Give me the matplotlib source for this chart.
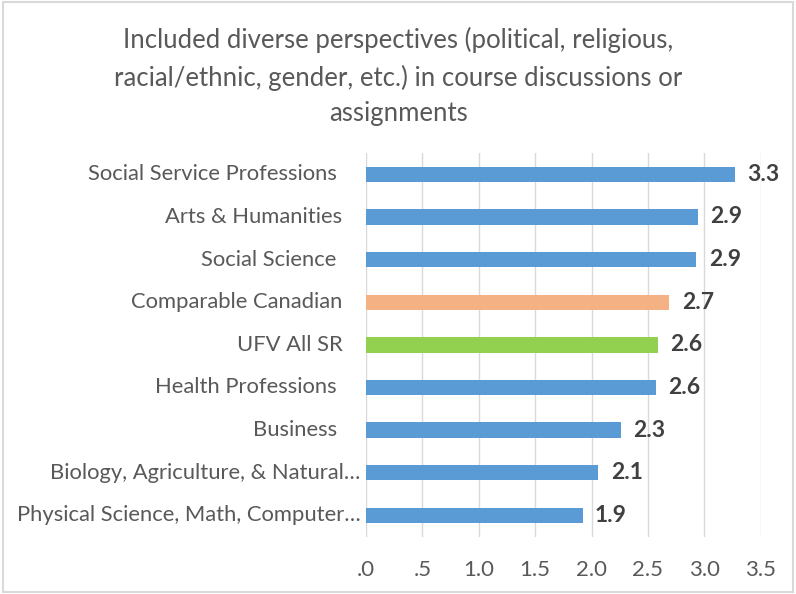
import matplotlib
matplotlib.use("Agg")
import matplotlib.pyplot as plt
from matplotlib.patches import Rectangle
import matplotlib.transforms as mtransforms

plt.rcParams['font.family'] = ['Lato', 'DejaVu Sans']

title = ("Included diverse perspectives (political, religious,\n"
         "racial/ethnic, gender, etc.) in course discussions or\n"
         "assignments")

# top to bottom
categories = ["Social Service Professions ", "Arts & Humanities", "Social Science ",
              "Comparable Canadian", "UFV All SR", "Health Professions ", "Business ",
              "Biology, Agriculture, & Natural\u2026",
              "Physical Science, Math, Computer\u2026"]
scores = [3.27, 2.94, 2.93, 2.69, 2.59, 2.57, 2.26, 2.06, 1.92]
colors = ["#5B9BD5", "#5B9BD5", "#5B9BD5", "#F4B183", "#92D050",
          "#5B9BD5", "#5B9BD5", "#5B9BD5", "#5B9BD5"]
xticks = [0, 0.5, 1.0, 1.5, 2.0, 2.5, 3.0, 3.5]
xtick_labels = [".0", ".5", "1.0", "1.5", "2.0", "2.5", "3.0", "3.5"]

fig = plt.figure(figsize=(7.96, 5.94), dpi=100)
ax = fig.add_axes([0.4598, 0.0965, 0.4959, 0.6459])

ypos = list(range(len(categories)))[::-1]
ax.barh(ypos, scores, height=0.36, color=colors, zorder=3)

ax.set_xlim(0, 3.5)
ax.set_ylim(-0.5, len(categories) - 0.5)
ax.set_xticks(xticks)
ax.set_xticklabels(xtick_labels)
ax.tick_params(axis='x', length=0, pad=17, labelsize=16, labelcolor="#595959")
ax.set_yticks([])
ax.grid(axis='x', color="#D9D9D9", linewidth=1, zorder=0)
for s in ax.spines.values():
    s.set_visible(False)

# category names, right aligned next to the axis
trans = mtransforms.blended_transform_factory(ax.transAxes, ax.transData)
for y, name in zip(ypos, categories):
    off = -4 if name.endswith("\u2026") else -17
    t = ax.text(0, y, name, transform=trans, ha='right', va='center',
                fontsize=15.8, color="#595959")
    t.set_transform(trans + mtransforms.ScaledTranslation(off / 72, 0, fig.dpi_scale_trans))

# value labels
for y, v in zip(ypos, scores):
    ax.annotate(f"{v:.1f}", (v, y), xytext=(9, 0), textcoords='offset points',
                ha='left', va='center', fontsize=16.5, fontweight='bold', color="#404040")

fig.text(0.5, 0.871, title, ha='center', va='center', fontsize=18.5,
         color="#595959", linespacing=1.52)

fig.patches.append(Rectangle((0.004, 0.004), 0.992, 0.992, transform=fig.transFigure,
                             fill=False, edgecolor="#D9D9D9", linewidth=1.5))

fig.savefig("out.png", dpi=100)
